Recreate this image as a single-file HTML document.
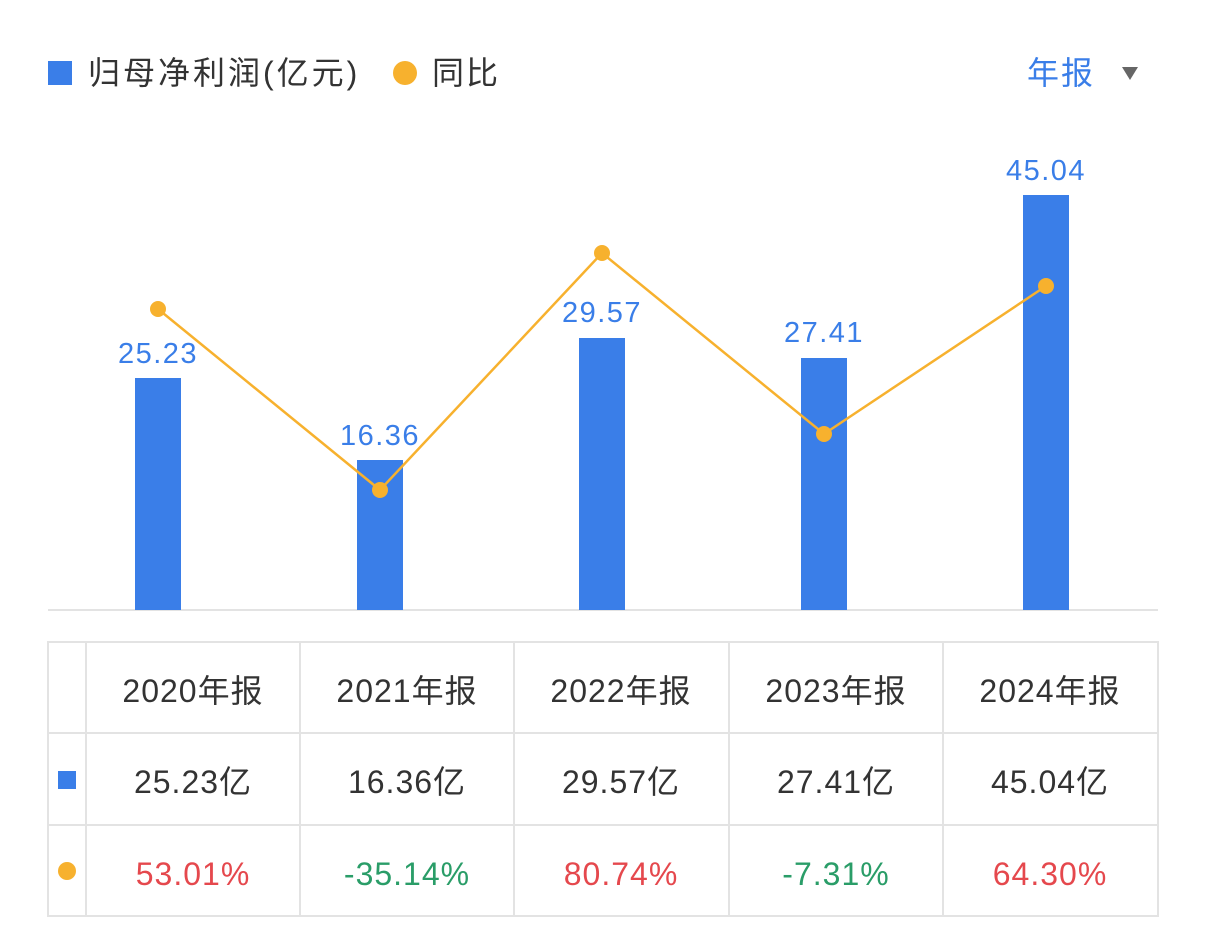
<!DOCTYPE html>
<html><head><meta charset="utf-8"><style>
body{margin:0;width:1206px;height:944px;background:#fff;overflow:hidden;font-family:"Liberation Sans","Noto Sans CJK SC",sans-serif;}
svg{position:absolute;left:0;top:0}
</style></head><body>
<svg width="1206" height="944" viewBox="0 0 1206 944" font-family="Liberation Sans, Noto Sans CJK SC, sans-serif">
<rect x="48" y="61" width="24" height="24" fill="#3a7ee8"/>
<text x="88" y="84" font-size="32" fill="#333" letter-spacing="3">归母净利润(亿元)</text>
<circle cx="405" cy="73" r="12" fill="#f7b12e"/>
<text x="432" y="84" font-size="32" fill="#333" letter-spacing="2">同比</text>
<text x="1027" y="84" font-size="32" fill="#3a7ee8" letter-spacing="2">年报</text>
<polygon points="1122,67 1138,67 1130,80" fill="#666"/>
<line x1="48" y1="610" x2="1158" y2="610" stroke="#e3e3e3" stroke-width="2"/>
<g fill="#3a7ee8">
<rect x="135" y="378" width="46" height="232"/>
<rect x="357" y="460" width="46" height="150"/>
<rect x="579" y="338" width="46" height="272"/>
<rect x="801" y="358" width="46" height="252"/>
<rect x="1023" y="195" width="46" height="415"/>
</g>
<g fill="#3a7ee8" font-size="29" text-anchor="middle" letter-spacing="1.5">
<text x="158" y="363">25.23</text>
<text x="380" y="445">16.36</text>
<text x="602" y="322">29.57</text>
<text x="824" y="342">27.41</text>
<text x="1046" y="180">45.04</text>
</g>
<polyline points="158,309 380,490 602,253 824,434 1046,286" fill="none" stroke="#f7b12e" stroke-width="2.5"/>
<g fill="#f7b12e">
<circle cx="158" cy="309" r="8"/><circle cx="380" cy="490" r="8"/><circle cx="602" cy="253" r="8"/><circle cx="824" cy="434" r="8"/><circle cx="1046" cy="286" r="8"/>
</g>
<g stroke="#e3e3e3" stroke-width="2" fill="none">
<rect x="48" y="642" width="1110" height="274"/>
<line x1="48" y1="733" x2="1158" y2="733"/>
<line x1="48" y1="825" x2="1158" y2="825"/>
<line x1="86" y1="642" x2="86" y2="916"/>
<line x1="300" y1="642" x2="300" y2="916"/>
<line x1="514" y1="642" x2="514" y2="916"/>
<line x1="729" y1="642" x2="729" y2="916"/>
<line x1="943" y1="642" x2="943" y2="916"/>
</g>
<rect x="58" y="771" width="18" height="18" fill="#3a7ee8"/>
<circle cx="67" cy="871" r="9" fill="#f7b12e"/>
<g font-size="32" text-anchor="middle" fill="#333" letter-spacing="1">
<text x="193" y="702">2020年报</text><text x="407" y="702">2021年报</text><text x="621" y="702">2022年报</text><text x="836" y="702">2023年报</text><text x="1050" y="702">2024年报</text>
<text x="193" y="793">25.23亿</text><text x="407" y="793">16.36亿</text><text x="621" y="793">29.57亿</text><text x="836" y="793">27.41亿</text><text x="1050" y="793">45.04亿</text>
<text x="193" y="885" fill="#e5484d">53.01%</text><text x="407" y="885" fill="#2a9d68">-35.14%</text><text x="621" y="885" fill="#e5484d">80.74%</text><text x="836" y="885" fill="#2a9d68">-7.31%</text><text x="1050" y="885" fill="#e5484d">64.30%</text>
</g>
</svg>
</body></html>
